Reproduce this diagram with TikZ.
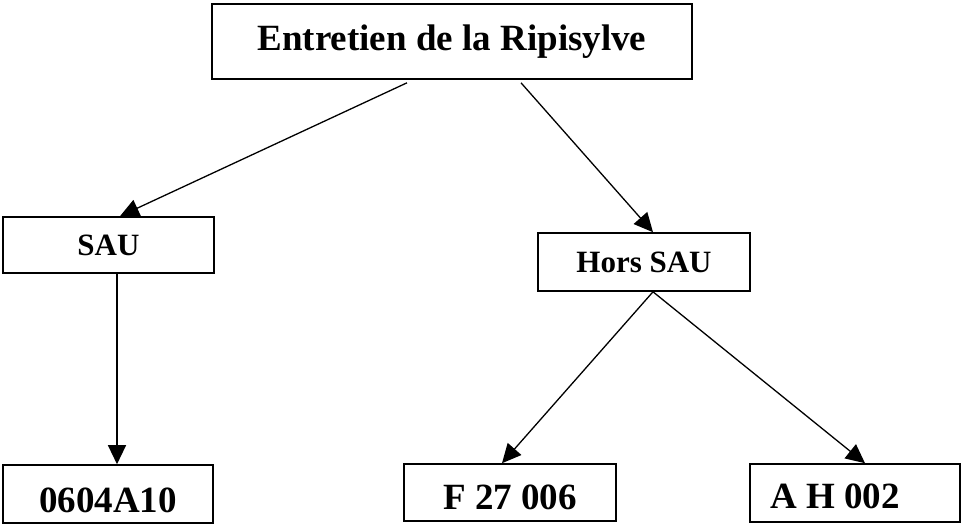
\documentclass[tikz,border=0pt]{standalone}
\usepackage{fontspec}
\setmainfont{Liberation Serif}
\usetikzlibrary{arrows.meta}
\begin{document}
\begin{tikzpicture}[x=1pt,y=-1pt,
  box/.style={draw=black,line width=1.6pt,rectangle,inner sep=0pt,font=\bfseries\fontsize{37}{40}\selectfont},
  smallbox/.style={box,font=\bfseries\fontsize{31}{34}\selectfont},
  conn/.style={draw=black,line width=1.3pt,-{Triangle[length=19pt,width=18pt]}}]
\useasboundingbox (0,0) rectangle (961,525);
\node[box,minimum width=480pt,minimum height=75pt] (top) at (452,41.5) {Entretien de la Ripisylve};
\node[smallbox,minimum width=211pt,minimum height=56pt] (sau) at (108.5,245) {SAU};
\node[smallbox,minimum width=212pt,minimum height=58pt] (hors) at (644,262) {Hors SAU};
\node[box,minimum width=210pt,minimum height=58pt,text height=36pt,text depth=0pt] (c1) at (108,494) {0604A10};
\node[box,minimum width=212pt,minimum height=57pt,text height=33pt,text depth=0pt] (c2) at (510,492.5) {F 27 006};
\node[box,minimum width=210pt,minimum height=58pt,text height=31pt,text depth=0pt] (c3) at (855,493) {A H 002\hspace*{40pt}};
\coordinate (t1) at ([xshift=-45pt,yshift=-3pt]top.south);
\coordinate (t2) at ([xshift=69pt,yshift=-3pt]top.south);
\coordinate (s1) at ([xshift=11.5pt]sau.north);
\coordinate (h1) at ([xshift=9pt]hors.north);
\coordinate (s2) at ([xshift=8.5pt]sau.south);
\coordinate (c1n) at ([xshift=9pt]c1.north);
\coordinate (h2) at ([xshift=9pt]hors.south);
\coordinate (c2n) at ([xshift=-8pt]c2.north);
\coordinate (c3n) at ([xshift=10pt]c3.north);
\draw[conn] (t1) -- (s1);
\draw[conn] (t2) -- (h1);
\draw[conn] (s2) -- (c1n);
\draw[conn] (h2) -- (c2n);
\draw[conn] (h2) -- (c3n);
\end{tikzpicture}
\end{document}
